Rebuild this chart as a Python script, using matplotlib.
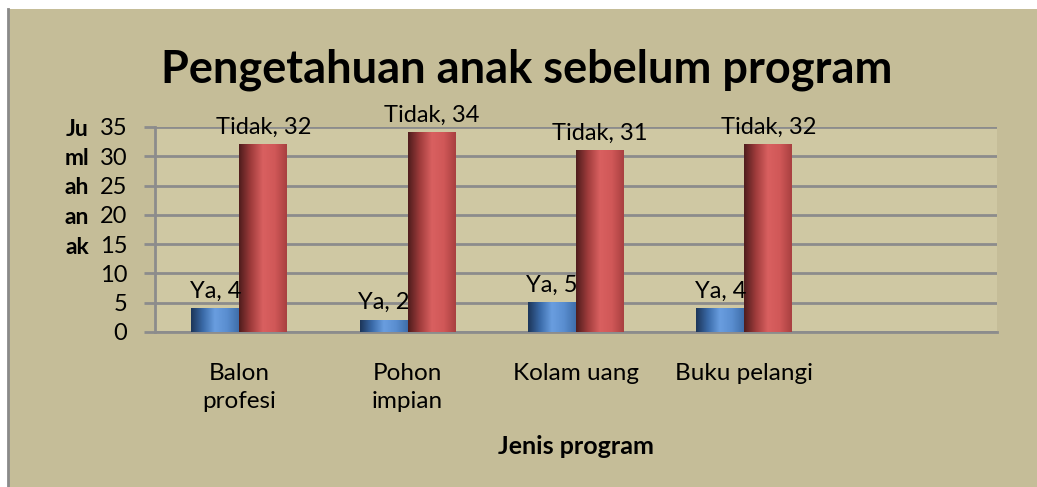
import numpy as np
import matplotlib.pyplot as plt
from matplotlib.colors import LinearSegmentedColormap
from matplotlib.patches import Rectangle

# data
kategori = ['Balon\nprofesi', 'Pohon\nimpian', 'Kolam uang', 'Buku pelangi', '']
ya = [4, 2, 5, 4]
tidak = [32, 34, 31, 32]
label_y = ['Ju', 'ml', 'ah', 'an', 'ak']

plt.rcParams['font.family'] = ['Lato', 'DejaVu Sans']

W, H = 1037, 487
fig = plt.figure(figsize=(W / 100, H / 100), dpi=100, facecolor='white')

# latar belakang chart (tan) dengan garis tepi kiri
bg = Rectangle((8 / W, 0), 1 - 8 / W, 1 - 9 / H, transform=fig.transFigure,
               facecolor='#c5bd98', edgecolor='none', zorder=-10)
fig.patches.append(bg)
fig.add_artist(plt.Line2D([8 / W, 8 / W], [0, 1 - 9 / H], transform=fig.transFigure,
                          color='#8a8a8a', lw=2))

# area plot
x0, x1, y0, y1 = 155, 997, 332, 127
ax = fig.add_axes([x0 / W, 1 - y0 / H, (x1 - x0) / W, (y0 - y1) / H])
ax.set_facecolor('#cfc8a3')
ax.set_yticks(range(0, 36, 5))
ax.set_xticks(range(len(kategori)))
ax.set_xticklabels(kategori, fontsize=17.5, linespacing=1.45)
ax.tick_params(axis='y', labelsize=17, length=8, width=2, color='#8c8c8c', pad=12)
ax.tick_params(axis='x', length=0, pad=22)
ax.yaxis.grid(True, color='#8c8c8c', lw=2)
ax.set_axisbelow(True)
for s in ['top', 'right']:
    ax.spines[s].set_visible(False)
for s in ['left', 'bottom']:
    ax.spines[s].set_color('#8c8c8c')
    ax.spines[s].set_linewidth(2)

cmap_biru = LinearSegmentedColormap.from_list(
    'biru', ['#1c3558', '#3a6aa8', '#6a9ee0', '#5a8ed0', '#3f6eaa'])
cmap_merah = LinearSegmentedColormap.from_list(
    'merah', ['#4e1c1c', '#a03c3c', '#d96060', '#d05858', '#a84040'])
grad = np.linspace(0, 1, 256).reshape(1, -1)

lebar = 0.285
for i in range(len(ya)):
    for val, off, cm, lbl in [(ya[i], -lebar / 2, cmap_biru, 'Ya'),
                              (tidak[i], lebar / 2, cmap_merah, 'Tidak')]:
        left = i + off - lebar / 2
        ax.imshow(grad, cmap=cm, aspect='auto', extent=(left, left + lebar, 0, val),
                  zorder=3, interpolation='bicubic')
        ax.annotate(f'{lbl}, {val}', (i + off, val), xytext=(0, 5),
                    textcoords='offset points', ha='center', va='bottom',
                    fontsize=17, zorder=4, annotation_clip=False)
ax.set_xlim(-0.5, len(kategori) - 0.5)
ax.set_ylim(0, 35)

fig.text(527 / W, 1 - 70 / H, 'Pengetahuan anak sebelum program', ha='center',
         va='center', fontsize=32.5, fontweight='bold')
# label sumbu y, dipecah per baris sejajar dengan tick
for k, s in enumerate(label_y):
    fig.text(77 / W, 1 - (129 + k * 29.5) / H, s, ha='center', va='center',
             fontsize=16.5, fontweight='bold')
fig.text(576 / W, 1 - 447 / H, 'Jenis program', ha='center', va='center',
         fontsize=18, fontweight='bold')

fig.savefig('out.png', dpi=100, facecolor='white')
